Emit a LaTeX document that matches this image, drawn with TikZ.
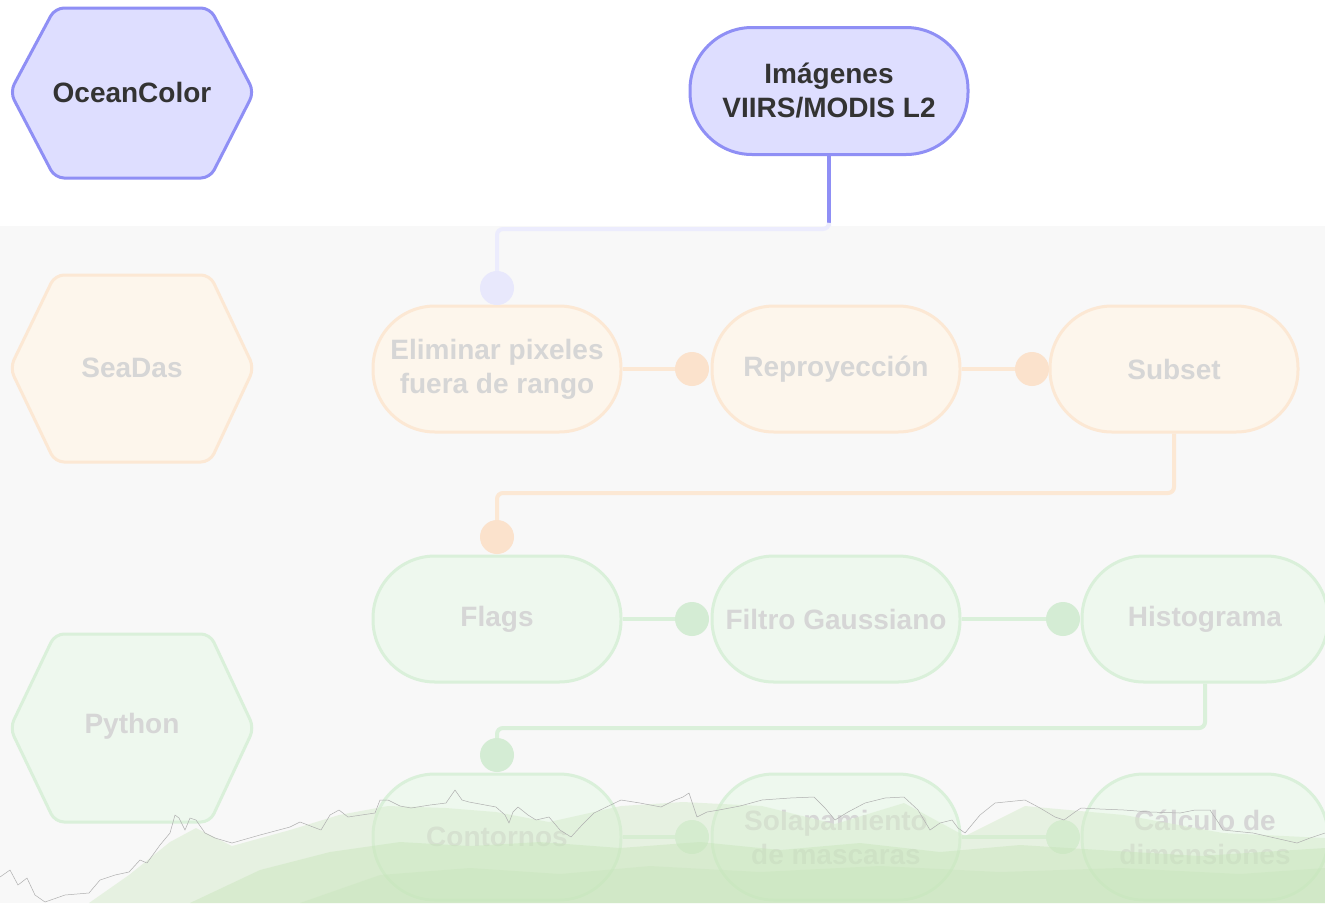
\documentclass[tikz,border=0pt]{standalone}
\usepackage{fontspec}
\setmainfont{Liberation Sans}
\definecolor{purpfill}{RGB}{222,222,255}
\definecolor{purpline}{RGB}{143,143,245}
\definecolor{darktxt}{RGB}{51,51,51}
\definecolor{fadetxt}{RGB}{214,214,214}
\definecolor{bglow}{RGB}{248,248,248}
\definecolor{lavdot}{RGB}{232,232,252}
\definecolor{lavline}{RGB}{236,236,253}
\definecolor{orfill}{RGB}{253,246,236}
\definecolor{orline}{RGB}{252,232,212}
\definecolor{ordot}{RGB}{251,226,204}
\definecolor{grfill}{RGB}{238,248,238}
\definecolor{grline}{RGB}{218,240,218}
\definecolor{grdot}{RGB}{212,236,212}
\definecolor{washA}{RGB}{214,236,204}
\definecolor{washB}{RGB}{196,228,182}
\definecolor{sketch}{RGB}{175,175,175}
\begin{document}
\begin{tikzpicture}[x=1pt,y=-1pt,
  txt/.style={font=\fontsize{28}{34}\selectfont\bfseries, align=center},
  stad/.style={txt, rectangle, rounded corners=62pt, minimum width=248pt, minimum height=126pt, line width=3pt, inner sep=0pt},
  hexa/.style={line width=3pt, rounded corners=9pt},
  purp/.style={draw=purpline, fill=purpfill, text=darktxt},
  orng/.style={draw=orline, fill=orfill, text=fadetxt},
  gren/.style={draw=grline, fill=grfill, text=fadetxt},
  dotnode/.style={circle, minimum size=34pt, inner sep=0pt},
  link/.style={line width=4pt, rounded corners=6pt}]
\useasboundingbox (0,0) rectangle (1325,903);
% background
\fill[white] (0,0) rectangle (1325,226);
\fill[bglow] (0,226) rectangle (1325,903);

% side hexagons
\draw[hexa, purp] (10,92) -- (55,8) -- (210,8) -- (254,92) -- (210,178) -- (55,178) -- cycle;
\node[txt, text=darktxt] (ocean) at (132,92) {OceanColor};
\draw[hexa, orng] (10,368) -- (55,275) -- (210,275) -- (254,368) -- (210,462) -- (55,462) -- cycle;
\node[txt, text=fadetxt] (seadas) at (132,368) {SeaDas};
\draw[hexa, gren] (10,728) -- (55,634) -- (210,634) -- (254,728) -- (210,822) -- (55,822) -- cycle;
\node[txt, text=fadetxt] (python) at (132,726) {Python};

% process nodes
\node[stad, purp, minimum width=278pt, minimum height=127pt] (img) at (829,91) {Imágenes\\VIIRS/MODIS L2};
\node[stad, orng] (elim) at (497,369) {Eliminar pixeles\\fuera de rango};
\node[stad, orng] (repro) at (836,369) {Reproyección};
\node[stad, orng] (subset) at (1174,369) {Subset};
\node[stad, gren] (flags) at (497,619) {Flags};
\node[stad, gren] (filtro) at (836,619) {Filtro Gaussiano};
\node[stad, gren, minimum width=246pt] (histo) at (1205,619) {Histograma};
\node[stad, gren] (cont) at (497,837) {Contornos};
\node[stad, gren] (sola) at (836,837) {Solapamiento\\de mascaras};
\node[stad, gren, minimum width=246pt] (calc) at (1205,837) {Cálculo de\\dimensiones};

% connector dots
\node[dotnode, fill=lavdot] (d1) at (497,288) {};
\node[dotnode, fill=ordot] (d2) at (692,369) {};
\node[dotnode, fill=ordot] (d3) at (1032,369) {};
\node[dotnode, fill=ordot] (d4) at (497,537) {};
\node[dotnode, fill=grdot] (d5) at (692,619) {};
\node[dotnode, fill=grdot] (d6) at (1063,619) {};
\node[dotnode, fill=grdot] (d7) at (497,755) {};
\node[dotnode, fill=grdot] (d8) at (692,837) {};
\node[dotnode, fill=grdot] (d9) at (1063,837) {};

% connectors
\coordinate (fade) at (829,226);
\draw[link, draw=purpline] (img.south) -- (fade);
\draw[link, draw=lavline] (fade) -- (829,229) -| (d1.north);
\draw[link, draw=orline] (elim.east) -- (d2.west);
\draw[link, draw=orline] (repro.east) -- (d3.west);
\draw[link, draw=orline] (subset.south) -- (1174,493) -| (d4.north);
\draw[link, draw=grline] (flags.east) -- (d5.west);
\draw[link, draw=grline] (filtro.east) -- (d6.west);
\draw[link, draw=grline] (histo.south) -- (1205,728) -| (d7.north);
\draw[link, draw=grline] (cont.east) -- (d8.west);
\draw[link, draw=grline] (sola.east) -- (d9.west);

% watercolour wash at the bottom
\fill[washA, opacity=0.5] (89,903) -- (129,875) -- (170,842) -- (196,828) -- (232,846) -- (290,830) -- (339,815) -- (388,806) -- (446,808) -- (496,812) -- (549,822) -- (621,806) -- (683,802) -- (762,806) -- (835,824) -- (904,803) -- (965,836) -- (1025,806) -- (1124,815) -- (1223,833) -- (1325,838) -- (1325,903) -- cycle;
\fill[washB, opacity=0.4] (190,903) -- (260,870) -- (330,852) -- (400,842) -- (470,846) -- (540,842) -- (620,848) -- (700,842) -- (780,850) -- (860,843) -- (940,852) -- (1020,845) -- (1100,850) -- (1200,856) -- (1325,848) -- (1325,903) -- cycle;
\fill[washB, opacity=0.3] (300,903) -- (380,875) -- (470,868) -- (560,874) -- (650,866) -- (760,872) -- (880,866) -- (1000,872) -- (1120,868) -- (1240,874) -- (1325,868) -- (1325,903) -- cycle;
\draw[sketch, line width=0.5pt, line join=round] plot coordinates {(0,877) (10,870) (18,885) (27,878) (35,895) (45,902) (65,895) (89,893) (100,880) (115,875) (129,872) (140,860) (147,863) (160,845) (170,833) (175,815) (179,818) (185,830) (190,818) (196,820) (205,833) (215,838) (232,843) (260,835) (290,827) (300,822) (321,830) (330,815) (339,810) (348,817) (375,813) (380,800) (388,800) (400,806) (411,808) (430,805) (446,803) (455,790) (462,800) (469,802) (496,807) (505,815) (509,823) (513,812) (518,807) (528,815) (536,820) (549,817) (560,830) (571,837) (582,825) (594,813) (621,800) (640,803) (661,807) (675,800) (683,797) (689,793) (697,817) (707,812) (719,810) (740,806) (762,800) (790,798) (814,797) (825,808) (835,820) (848,812) (865,803) (885,798) (904,797) (918,810) (930,830) (940,823) (952,820) (958,828) (965,833) (980,815) (995,803) (1025,800) (1040,808) (1055,817) (1064,820) (1075,812) (1081,808) (1100,809) (1124,810) (1150,812) (1180,813) (1195,810) (1210,810) (1218,822) (1223,830) (1253,833) (1275,838) (1297,843) (1310,838) (1325,833)};
\end{tikzpicture}
\end{document}
